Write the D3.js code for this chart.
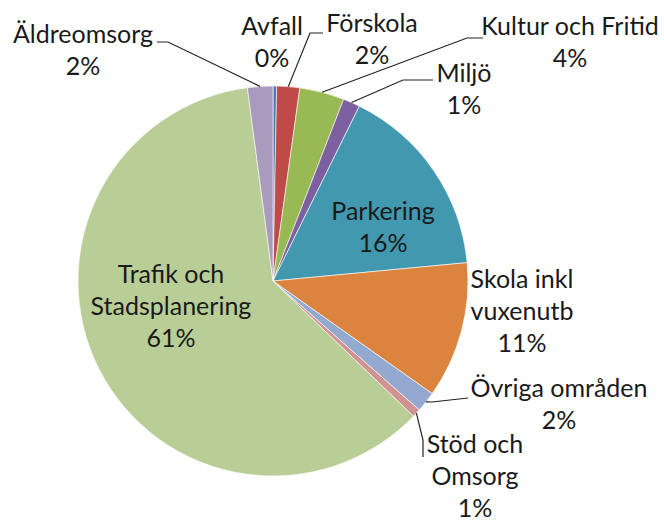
<!DOCTYPE html>
<html>
<head>
<meta charset="utf-8">
<script src="https://d3js.org/d3.v7.min.js"></script>
<style>
  body { margin: 0; background: #fff; }
  text { font-family: Lato, "Open Sans", sans-serif; fill: #1a1a1a; }
</style>
</head>
<body>
<div id="chart"></div>
<script>
// slices, clockwise from 12 o'clock
var categories = ["Avfall", "Förskola", "Kultur och Fritid", "Miljö", "Parkering",
                  "Skola inkl vuxenutb", "Övriga områden", "Stöd och Omsorg",
                  "Trafik och Stadsplanering", "Äldreomsorg"];
var values = [0.3, 1.9, 3.7, 1.4, 16.2, 11.3, 1.7, 0.7, 60.7, 2.1];
var labelLines = [["Avfall"], ["Förskola"], ["Kultur och Fritid"], ["Miljö"], ["Parkering"],
                  ["Skola inkl", "vuxenutb"], ["Övriga områden"], ["Stöd och", "Omsorg"],
                  ["Trafik och", "Stadsplanering"], ["Äldreomsorg"]];
var colours = ["#4a7ebb", "#be4b48", "#98b954", "#7d60a0", "#4198af",
               "#db843d", "#93a9cf", "#d19392", "#b9cd96", "#a99bbd"];

function init(){
    var w = 664, h = 522;
    var cx = 273, cy = 281, r = 195;

    // label placement (centre x, first baseline y) and leader line elbow/end
    var layout = {
        "Avfall":                    {x: 272, y: 35},
        "Förskola":                  {x: 372, y: 32, lead: [[310, 33], [323, 33]]},
        "Kultur och Fritid":         {x: 570, y: 35, lead: [[467, 38], [483, 38]]},
        "Miljö":                     {x: 464, y: 82, lead: [[403, 80], [433, 80]]},
        "Parkering":                 {x: 383, y: 220},
        "Skola inkl vuxenutb":       {x: 522, y: 288},
        "Övriga områden":            {x: 559, y: 397, lead: [[432, 402], [468, 398]]},
        "Stöd och Omsorg":           {x: 475, y: 453, lead: [[423, 440], [423, 457]]},
        "Trafik och Stadsplanering": {x: 171, y: 283},
        "Äldreomsorg":               {x: 83,  y: 43, lead: [[168, 42], [157, 42]]}
    };
    var lineH = 32;

    var svg = d3.select("#chart").append("svg")
        .attr("width", w).attr("height", h);

    var data = categories.map(function(c, i){ return {name: c, value: values[i], lines: labelLines[i], i: i}; });
    var total = d3.sum(values);
    var pct = d3.format(".0%");

    var pie = d3.pie().sort(null).value(function(d){ return d.value; });
    var arcs = pie(data);
    var arc = d3.arc().innerRadius(0).outerRadius(r);
    var edge = d3.arc().innerRadius(r).outerRadius(r); // point on the rim

    var g = svg.append("g").attr("transform", "translate(" + cx + "," + cy + ")");
    g.selectAll("path")
        .data(arcs)
        .enter()
        .append("path")
        .attr("d", arc)
        .attr("fill", function(d){ return colours[d.data.i]; })
        .attr("stroke", "#fff")
        .attr("stroke-width", 0.6);

    // leader lines
    var line = d3.line();
    arcs.forEach(function(d){
        var L = layout[d.data.name];
        if (!L.lead) return;
        var p = edge.centroid(d);
        var pts = [[p[0] + cx, p[1] + cy]].concat(L.lead);
        svg.append("path")
            .attr("d", line(pts))
            .attr("fill", "none")
            .attr("stroke", "#222")
            .attr("stroke-width", 1.2);
    });

    // labels
    arcs.forEach(function(d){
        var L = layout[d.data.name];
        var lines = d.data.lines.concat([pct(d.data.value / total)]);
        var t = svg.append("text")
            .attr("text-anchor", "middle")
            .attr("font-size", 25);
        lines.forEach(function(s, k){
            t.append("tspan")
                .attr("x", L.x)
                .attr("y", L.y + k * lineH)
                .text(s);
        });
    });
}
window.onload = init;
</script>
</body>
</html>
